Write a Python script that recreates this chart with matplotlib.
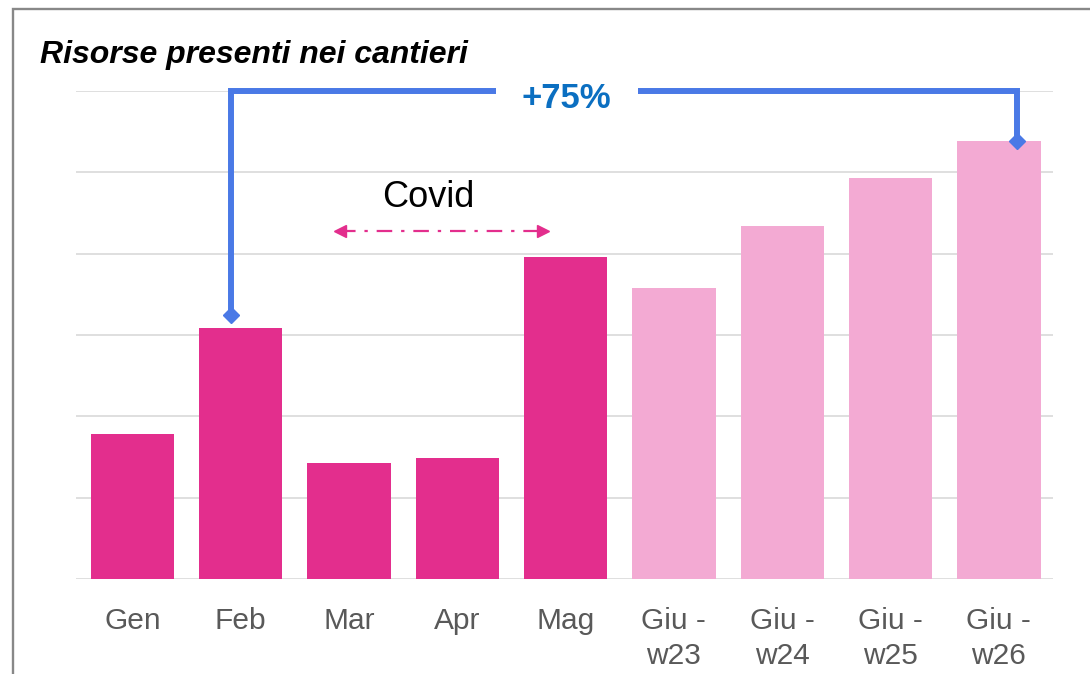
import matplotlib.pyplot as plt
from matplotlib.patches import Rectangle

# dati (unita' arbitrarie, griglia ogni 10)
mesi = ["Gen", "Feb", "Mar", "Apr", "Mag", "Giu -\nw23", "Giu -\nw24", "Giu -\nw25", "Giu -\nw26"]
risorse = [17.8, 30.9, 14.3, 14.9, 39.6, 35.8, 43.4, 49.3, 53.9]
mensile = [True, True, True, True, True, False, False, False, False]
griglia = [0, 10, 20, 30, 40, 50, 60]
etichetta_delta = "+75%"
etichetta_covid = "Covid"

rosa_scuro = "#E32E8D"
rosa_chiaro = "#F3AAD3"
blu = "#4A79E6"
grigio = "#595959"

plt.rcParams['font.family'] = ['Liberation Sans', 'DejaVu Sans']

fig = plt.figure(figsize=(10.9, 6.74), dpi=100)
ax = fig.add_axes([76 / 1090, 1 - 579 / 674, (1053 - 76) / 1090, (579 - 91) / 674])

x = list(range(len(mesi)))
colori = [rosa_scuro if m else rosa_chiaro for m in mensile]
ax.bar(x, risorse, width=0.77, color=colori, zorder=2)

ax.set_xlim(-0.52, len(mesi) - 0.5)
ax.set_ylim(griglia[0], griglia[-1])
ax.set_yticks(griglia)
ax.set_yticklabels([])
ax.grid(axis='y', color='#D9D9D9', linewidth=1.2, zorder=0)
ax.set_axisbelow(True)
for s in ax.spines.values():
    s.set_visible(False)
ax.tick_params(axis='both', length=0)
ax.tick_params(axis='x', pad=20, labelsize=21.5, labelcolor=grigio)
ax.set_xticks(x)
ax.set_xticklabels(mesi, linespacing=1.35, va='top')

# parentesi +75% tra Feb e Giu-w26 (leggermente spostata rispetto al centro barra)
i0, i1 = 1, 8
x0, x1 = i0 - 0.09, i1 + 0.17
y_top = griglia[-1]
ax.plot([x0, x0, x1, x1], [risorse[i0] + 1.5, y_top, y_top, risorse[i1]],
        color=blu, linewidth=4.3, solid_joinstyle='miter', zorder=3, clip_on=False)
ax.plot([x0, x1], [risorse[i0] + 1.5, risorse[i1]], linestyle='none', marker='D',
        markersize=8, color=blu, zorder=3, clip_on=False)
ax.text(4.01, y_top - 0.9, etichetta_delta, ha='center', va='center', fontsize=25,
        fontweight='bold', color='#0B6FC1', zorder=4,
        bbox=dict(boxstyle='square,pad=0.75', facecolor='white', edgecolor='none'))

# periodo Covid
ax.text(2.73, 46.9, etichetta_covid, ha='center', va='center', fontsize=26, color='black')
ax.plot([1.92, 3.79], [42.8, 42.8], color=rosa_scuro, linewidth=1.6,
        dashes=(7, 4, 1.5, 4), zorder=3)
ax.plot([1.92], [42.8], marker='<', markersize=9, color=rosa_scuro, linestyle='none', zorder=3)
ax.plot([3.79], [42.8], marker='>', markersize=9, color=rosa_scuro, linestyle='none', zorder=3)

# titolo e cornice
fig.text(40 / 1090, 1 - 55 / 674, "Risorse presenti nei cantieri", ha='left', va='center',
         fontsize=23, fontweight='bold', fontstyle='italic', color='black')
cornice = Rectangle((12.5 / 1090, -0.5), 2, 1.5 - 9.5 / 674, transform=fig.transFigure,
                    fill=False, edgecolor='#888888', linewidth=1.7, clip_on=False)
fig.patches.append(cornice)

fig.savefig("out.png", dpi=100)
